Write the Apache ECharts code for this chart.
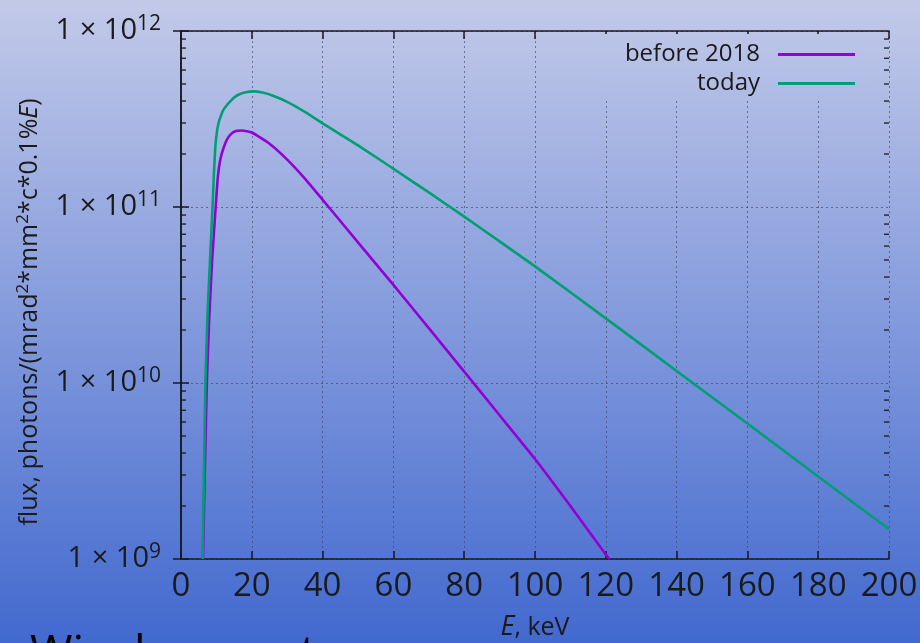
<!DOCTYPE html>
<html><head><meta charset="utf-8">
<script src="https://cdn.jsdelivr.net/npm/echarts@6/dist/echarts.min.js"></script>
<style>html,body{margin:0;padding:0;overflow:hidden;} #c{width:920px;height:643px;}</style>
</head><body><div id="c"></div>
<script>
// ---- data ----
const seriesNames = ['before 2018', 'today'];
const energyBefore = [6.2, 6.7, 7.3, 8.0, 8.8, 9.8, 10.4, 11.1, 12.0, 12.9, 13.9, 15.5, 17.2, 20, 25, 30, 35, 40, 50, 60, 70, 80, 90, 100, 110, 120, 121];
const fluxBefore = [1.0e9, 3.0e9, 1.0e10, 2.4e10, 5.0e10, 1.0e11, 1.48e11, 1.86e11, 2.16e11, 2.40e11, 2.57e11, 2.70e11, 2.72e11, 2.65e11, 2.29e11, 1.86e11, 1.45e11, 1.10e11, 6.3e10, 3.61e10, 2.05e10, 1.16e10, 6.56e9, 3.70e9, 2.0e9, 1.06e9, 1.0e9];
const energyToday = [6.1, 6.5, 6.9, 7.5, 8.2, 8.9, 9.3, 9.7, 10.1, 10.6, 11.2, 12.0, 13.0, 13.9, 15, 16.5, 18, 20.4, 23, 26, 30, 35, 40, 50, 60, 70, 80, 90, 100, 120, 140, 160, 180, 200];
const fluxToday = [1.0e9, 3.2e9, 1.0e10, 2.5e10, 5.0e10, 1.0e11, 1.55e11, 2.2e11, 2.63e11, 3.0e11, 3.27e11, 3.57e11, 3.8e11, 3.98e11, 4.19e11, 4.37e11, 4.47e11, 4.54e11, 4.47e11, 4.29e11, 3.96e11, 3.47e11, 2.99e11, 2.24e11, 1.65e11, 1.21e11, 8.81e10, 6.38e10, 4.60e10, 2.33e10, 1.17e10, 5.89e9, 2.94e9, 1.48e9];
const xTickValues = [0, 20, 40, 60, 80, 100, 120, 140, 160, 180, 200];
const yMajorTicks = [1e9, 1e10, 1e11, 1e12];
const yMinorTicks = [2e9,3e9,4e9,5e9,6e9,7e9,8e9,9e9, 2e10,3e10,4e10,5e10,6e10,7e10,8e10,9e10, 2e11,3e11,4e11,5e11,6e11,7e11,8e11,9e11];

const FONT = '"Open Sans", "Noto Sans", sans-serif';
const INK = '#1a1a1a';
const colors = ['#9400d3', '#009e73'];

const chart = echarts.init(document.getElementById('c'));
const frameLine = { show: true, lineStyle: { color: INK, width: 1.5 } };
const majorTick = { show: true, inside: true, length: 8, lineStyle: { color: INK, width: 1.5 } };
const gridLine = { show: true, lineStyle: { type: [2, 3], color: 'rgba(60,60,90,0.6)', width: 1 } };

const option = {
  backgroundColor: new echarts.graphic.LinearGradient(0, 0, 0, 1, [
    { offset: 0, color: '#c3cae9' },
    { offset: 1, color: '#4269cf' }
  ]),
  animation: false,
  grid: { left: 181, right: 31, top: 31, bottom: 84, containLabel: false, outerBoundsMode: 'none' },
  legend: {
    data: seriesNames,
    orient: 'vertical',
    align: 'right',
    right: 54,
    top: 34,
    padding: [6, 11, 0, 25],
    itemGap: 0,
    icon: 'rect',
    itemWidth: 77,
    itemHeight: 3,
    backgroundColor: new echarts.graphic.LinearGradient(0, 0, 0, 1, [
      { offset: 0, color: '#bcc5e8' },
      { offset: 1, color: '#afbbe5' }
    ]),
    textStyle: { fontFamily: FONT, fontSize: 24, color: INK, lineHeight: 29, padding: [0, 13, 0, 0] }
  },
  graphic: [{
    type: 'text', left: 30, top: 632, z: 0,
    style: { text: 'Wiggler spectrum', font: '46px "Open Sans", sans-serif', fill: '#000' }
  }],
  xAxis: [{
    type: 'value', min: 0, max: 200, interval: 20, position: 'bottom',
    axisLine: frameLine, axisTick: majorTick,
    axisLabel: { fontFamily: FONT, fontSize: 33, color: INK, margin: 11,
      formatter: v => xTickValues.indexOf(v) >= 0 ? String(v) : '' },
    splitLine: gridLine,
    name: '{i|E}{n|, keV}',
    nameLocation: 'middle', nameGap: 55,
    nameTextStyle: { rich: {
      i: { fontFamily: FONT, fontSize: 27, fontStyle: 'italic', color: INK },
      n: { fontFamily: FONT, fontSize: 25, color: INK }
    } }
  }, {
    type: 'value', min: 0, max: 200, interval: 20, position: 'top',
    axisLine: frameLine, axisTick: majorTick, axisLabel: { show: false }, splitLine: { show: false }
  }],
  yAxis: [{
    type: 'log', logBase: 10, min: 1e9, max: 1e12, position: 'left',
    axisLine: frameLine, axisTick: majorTick,
    axisLabel: {
      margin: 20,
      formatter: v => {
        const e = Math.round(Math.log10(v));
        return yMajorTicks.indexOf(Math.pow(10, e)) >= 0 ? '{b|1 × 10}{s|' + e + '}' : '';
      },
      rich: {
        b: { fontFamily: FONT, fontSize: 29, color: INK, lineHeight: 35 },
        s: { fontFamily: FONT, fontSize: 21, color: INK, lineHeight: 21, verticalAlign: 'top' }
      }
    },
    splitLine: gridLine,
    name: '{n|flux, photons/(mrad}{s|2}{n|*mm}{s|2}{n|*c*0.1%}{i|E}{n|)}',
    nameLocation: 'middle', nameRotate: 90, nameGap: 136,
    nameTextStyle: { padding: [0, 34, 0, 0], rich: {
      n: { fontFamily: FONT, fontSize: 25, color: INK, lineHeight: 30 },
      s: { fontFamily: FONT, fontSize: 17, color: INK, lineHeight: 17, verticalAlign: 'top' },
      i: { fontFamily: FONT, fontSize: 25, fontStyle: 'italic', color: INK, lineHeight: 30 }
    } }
  }, {
    type: 'log', logBase: 10, min: 1e9, max: 1e12, position: 'right',
    axisLine: frameLine, axisTick: majorTick, axisLabel: { show: false }, splitLine: { show: false }
  }],
  series: [{
    name: seriesNames[0], type: 'line', showSymbol: false, smooth: 0.15,
    color: colors[0], lineStyle: { width: 2.6, color: colors[0] },
    data: energyBefore.map((e, i) => [e, fluxBefore[i]]), z: 3
  }, {
    name: seriesNames[1], type: 'line', showSymbol: false, smooth: 0.15,
    color: colors[1], lineStyle: { width: 2.6, color: colors[1] },
    data: energyToday.map((e, i) => [e, fluxToday[i]]), z: 3
  }, {
    name: 'minorTicks', type: 'custom', silent: true, clip: false, z: 4,
    data: yMinorTicks.map(v => [0, v]),
    encode: { x: 0, y: 1 },
    renderItem: (params, api) => {
      const v = api.value(1);
      const pL = api.coord([0, v]);
      const pR = api.coord([200, v]);
      return { type: 'group', children: [
        { type: 'line', shape: { x1: pL[0], y1: pL[1], x2: pL[0] + 5, y2: pL[1] }, style: { stroke: INK, lineWidth: 1.3 } },
        { type: 'line', shape: { x1: pR[0], y1: pR[1], x2: pR[0] - 5, y2: pR[1] }, style: { stroke: INK, lineWidth: 1.3 } }
      ] };
    }
  }]
};
chart.setOption(option);
</script>
</body></html>
